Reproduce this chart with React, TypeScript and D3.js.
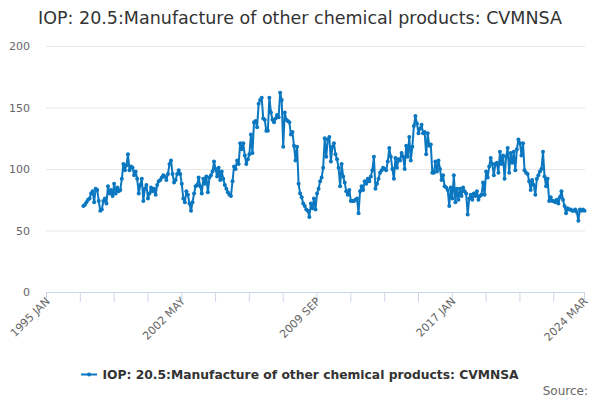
import * as React from 'react'
import * as d3 from 'd3'

const title = 'IOP: 20.5:Manufacture of other chemical products: CVMNSA'
const seriesName = 'IOP: 20.5:Manufacture of other chemical products: CVMNSA'
const monthNames = ['JAN', 'FEB', 'MAR', 'APR', 'MAY', 'JUN', 'JUL', 'AUG', 'SEP', 'OCT', 'NOV', 'DEC']
const firstYear = 1995
const lastYear = 2024
const lastMonth = 2 // MAR
const seriesStart = '1997 JAN'
const yTicks = [0, 50, 100, 150, 200]
const xTickLabels = ['1995 JAN', '2002 MAY', '2009 SEP', '2017 JAN', '2024 MAR']

// monthly values, 1997 JAN .. 2024 MAR
const values = [
  70, 71, 73, 75, 76, 80, 82, 73, 84, 83, 74, 66,
  67, 74, 76, 72, 86, 80, 83, 78, 88, 80, 85, 82,
  83, 92, 104, 99, 103, 112, 99, 102, 101, 95, 98, 92,
  80, 87, 92, 74, 84, 87, 76, 80, 85, 82, 84, 79,
  87, 90, 91, 93, 95, 94, 91, 96, 104, 107, 96, 89,
  91, 96, 99, 96, 88, 76, 73, 82, 79, 72, 66, 73,
  80, 86, 87, 93, 86, 80, 92, 88, 94, 81, 93, 95,
  98, 106, 100, 94, 101, 91, 98, 92, 87, 84, 81, 79,
  78, 90, 102, 100, 107, 104, 121, 116, 121, 111, 104, 108,
  112, 128, 113, 138, 139, 134, 153, 156, 158, 141, 140, 131,
  131, 158, 146, 140, 138, 141, 144, 142, 162, 156, 118, 146,
  140, 139, 138, 128, 130, 119, 107, 118, 88, 80, 77, 72,
  70, 67, 66, 61, 72, 68, 76, 67, 80, 84, 90, 93,
  101, 125, 110, 124, 126, 106, 118, 121, 112, 108, 101, 86,
  104, 94, 89, 82, 79, 83, 74, 74, 74, 75, 76, 64,
  82, 86, 83, 90, 88, 92, 90, 94, 99, 110, 84, 88,
  92, 97, 99, 101, 100, 99, 106, 117, 110, 100, 92, 109,
  101, 108, 107, 113, 110, 100, 119, 110, 126, 107, 118, 135,
  143, 137, 129, 133, 136, 129, 130, 112, 129, 119, 120, 97,
  97, 106, 98, 107, 100, 91, 95, 86, 85, 83, 70, 85,
  76, 95, 73, 84, 75, 84, 78, 85, 82, 80, 63, 76,
  79, 75, 80, 78, 82, 75, 78, 79, 89, 79, 98, 93,
  102, 109, 104, 95, 104, 105, 97, 114, 104, 111, 92, 110,
  117, 97, 113, 105, 114, 99, 116, 124, 121, 111, 121, 99,
  97, 96, 90, 83, 91, 87, 79, 92, 95, 98, 100, 114,
  94, 86, 92, 74, 77, 74, 74, 73, 75, 72, 77, 82,
  75, 70, 64, 68, 67, 67, 66, 66, 67, 65, 58, 67,
  66, 67, 66,
]

const categories: string[] = []
for (let yr = firstYear; yr <= lastYear; yr++) {
  monthNames.forEach((m, k) => {
    if (yr < lastYear || k <= lastMonth) categories.push(`${yr} ${m}`)
  })
}

const width = 600
const height = 400
const font = '"DejaVu Sans", sans-serif'
const color = '#0a77c0'

const App: React.FC = () => {
  const x = d3.scaleLinear().domain([0, categories.length - 1]).range([46.5, 584.5])
  const y = d3.scaleLinear().domain([0, 200]).range([292, 46])
  const start = categories.indexOf(seriesStart)
  const points = values.map((v, i) => [start + i, v] as [number, number])

  const line = d3.line<[number, number]>()
    .x(d => x(d[0]))
    .y(d => y(d[1]))

  // ticks every 22 months plus the last category
  const tickIdx = d3.range(0, categories.length - 1, 22)
  if (tickIdx[tickIdx.length - 1] !== categories.length - 1) tickIdx.push(categories.length - 1)

  return (
    <svg width={width} height={height} style={{ position: 'absolute', left: 0, top: 0, fontFamily: font }}>
      <rect width={width} height={height} fill="#fff" />
      <text x={300} y={24} textAnchor="middle" fontSize={17.5} fill="#333">{title}</text>

      {yTicks.map(t => (
        <g key={t}>
          {t > 0 && <line x1={46} x2={585} y1={y(t) + 0.5} y2={y(t) + 0.5} stroke="#e6e6e6" />}
          <text x={30} y={y(t) + 4} textAnchor="end" fontSize={11} fill="#666">{t}</text>
        </g>
      ))}

      <line x1={46} x2={585} y1={292.5} y2={292.5} stroke="#ccd6eb" />
      {tickIdx.map(i => (
        <line key={i} x1={x(i)} x2={x(i)} y1={292} y2={302} stroke="#ccd6eb" />
      ))}
      {xTickLabels.map(l => {
        const i = categories.indexOf(l)
        return (
          <text key={l} transform={`translate(${x(i) + 4},${302}) rotate(-45)`} textAnchor="end"
            fontSize={11} fill="#666">{l}</text>
        )
      })}

      <path d={line(points) ?? ''} fill="none" stroke={color} strokeWidth={2} strokeLinejoin="round" />
      {points.map(p => (
        <circle key={p[0]} cx={x(p[0])} cy={y(p[1])} r={2} fill={color} />
      ))}

      <line x1={81} x2={97} y1={374.5} y2={374.5} stroke={color} strokeWidth={2} />
      <circle cx={89} cy={374.5} r={2} fill={color} />
      <text x={102.5} y={378.5} fontSize={12.3} fontWeight="bold" fill="#333">{seriesName}</text>
      <text x={588} y={395} textAnchor="end" fontSize={12} fill="#666">Source:</text>
    </svg>
  )
}

export default App
